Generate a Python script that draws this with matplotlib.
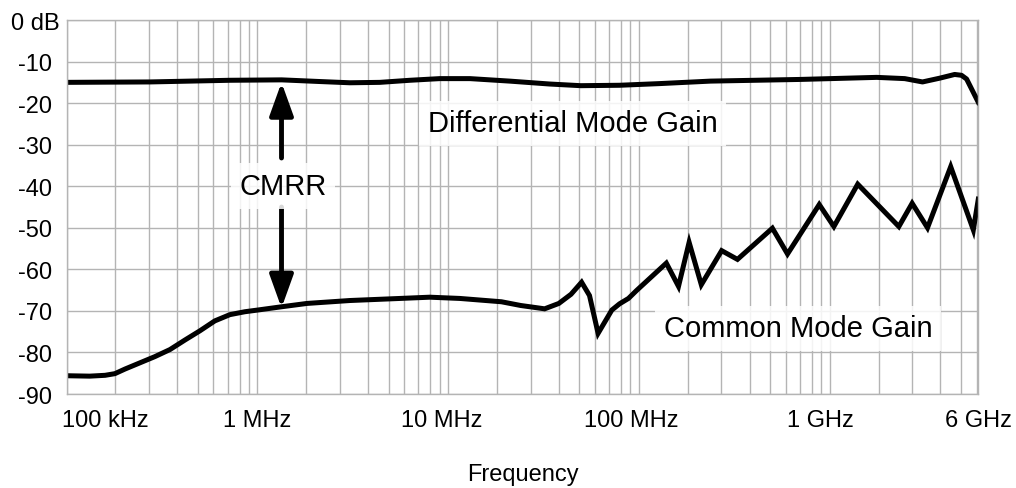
import numpy as np
import matplotlib.pyplot as plt
from matplotlib.ticker import LogLocator, NullFormatter

plt.rcParams['font.family'] = ['Liberation Sans', 'DejaVu Sans']

# Differential mode gain (Hz, dB)
dm_freq = [1.0e5, 2.73e5, 7.17e5, 1.34e6, 2.12e6, 3.05e6, 4.38e6, 6.29e6, 9.02e6, 1.30e7,
           2.10e7, 3.40e7, 4.95e7, 7.91e7, 1.28e8, 2.37e8, 6.94e8, 1.76e9, 2.47e9, 3.06e9,
           3.76e9, 4.51e9, 4.90e9, 5.21e9, 6.0e9]
dm_gain = [-15.0, -14.9, -14.5, -14.4, -14.8, -15.1, -15.0, -14.5, -14.1, -14.1,
           -14.7, -15.4, -15.8, -15.7, -15.3, -14.7, -14.3, -13.8, -14.1, -14.9,
           -14.0, -13.1, -13.3, -14.2, -19.8]

# Common mode gain (Hz, dB)
cm_freq = [1.0e5, 1.32e5, 1.59e5, 1.79e5, 2.02e5, 2.42e5, 2.90e5, 3.48e5, 4.17e5, 4.99e5,
           5.98e5, 7.17e5, 8.59e5, 1.0e6, 1.34e6, 1.82e6, 3.05e6, 5.6e6, 8.0e6, 1.15e7,
           1.9e7, 2.4e7, 3.2e7, 3.8e7, 4.4e7, 5.0e7, 5.5e7, 6.1e7, 7.2e7, 7.9e7,
           8.8e7, 9.7e7, 1.39e8, 1.61e8, 1.83e8, 2.12e8, 2.71e8, 3.28e8, 5.0e8, 6.0e8,
           8.8e8, 1.05e9, 1.4e9, 2.3e9, 2.7e9, 3.25e9, 4.3e9, 5.65e9, 6.0e9]
cm_gain = [-85.6, -85.7, -85.5, -85.1, -84.0, -82.5, -81.0, -79.3, -77.0, -74.8,
           -72.4, -70.9, -70.2, -69.8, -69.0, -68.2, -67.5, -67.0, -66.7, -67.0,
           -67.8, -68.7, -69.5, -68.2, -66.0, -63.1, -66.3, -75.4, -69.8, -68.3,
           -67.0, -65.1, -58.5, -64.1, -53.5, -63.7, -55.5, -57.6, -50.1, -56.3,
           -44.4, -49.7, -39.5, -49.7, -44.1, -50.0, -35.3, -50.5, -43.1]

y_ticks = [0, -10, -20, -30, -40, -50, -60, -70, -80, -90]
y_labels = ['0 dB', '-10', '-20', '-30', '-40', '-50', '-60', '-70', '-80', '-90']
x_label_pos = [1.6e5, 1.0e6, 9.2e6, 9.1e7, 8.9e8, 6.0e9]
x_labels = ['100 kHz', '1 MHz', '10 MHz', '100 MHz', '1 GHz', '6 GHz']
# where the drawn grid puts its lines inside each decade
grid_subs = [1.0, 1.8, 2.7, 3.8, 4.87, 5.88, 6.97, 8.07, 9.0]

# CMRR arrow: frequency, tip/tail levels (dB)
arrow_freq = 1.337e6
arrow_top = (-15.0, -33.2)
arrow_bottom = (-69.3, -45.0)

grid_color = '#b4b4b4'

fig = plt.figure(figsize=(10.16, 4.89), dpi=100)
ax = fig.add_axes([0.0656, 0.1922, 0.8973, 0.7648])
ax.set_xscale('log')
ax.set_xlim(1e5, 6e9)
ax.set_ylim(-90, 0)

ax.xaxis.remove_overlapping_locs = False
ax.xaxis.set_minor_locator(LogLocator(base=10, subs=grid_subs, numticks=60))
ax.xaxis.set_minor_formatter(NullFormatter())
ax.set_xticks(x_label_pos, x_labels)
ax.grid(True, axis='x', which='minor', color=grid_color, lw=1.0)
ax.set_yticks(y_ticks, y_labels)
ax.grid(True, axis='y', which='major', color=grid_color, lw=1.0)
ax.set_axisbelow(True)

ax.tick_params(which='both', length=0)
ax.tick_params(axis='x', pad=10.5, labelsize=17)
ax.tick_params(axis='y', pad=22.8, labelsize=17)
for lab in ax.get_yticklabels():
    lab.set_ha('center')
for s in ax.spines.values():
    s.set_color(grid_color)
    s.set_linewidth(1.0)

ax.plot(dm_freq, dm_gain, color='black', lw=3.6, solid_joinstyle='round')
ax.plot(cm_freq, cm_gain, color='black', lw=3.6, solid_joinstyle='miter')

box = dict(boxstyle='square,pad=0.3', facecolor='white', edgecolor='none', alpha=0.85)
ax.text(4.5e7, -26.8, 'Differential Mode Gain', ha='center', va='baseline',
        fontsize=21, bbox=box, zorder=5)
ax.text(1.36e6, -41.9, 'CMRR', ha='center', va='baseline', fontsize=21, bbox=box, zorder=5)
ax.text(6.8e8, -76.1, 'Common Mode Gain', ha='center', va='baseline',
        fontsize=21, bbox=box, zorder=5)

arrow_style = dict(arrowstyle='-|>,head_length=1.0,head_width=0.36', color='black',
                   lw=3.5, shrinkA=0, shrinkB=0, mutation_scale=20)
ax.annotate('', xy=(arrow_freq, arrow_top[0]), xytext=(arrow_freq, arrow_top[1]),
            arrowprops=arrow_style)
ax.annotate('', xy=(arrow_freq, arrow_bottom[0]), xytext=(arrow_freq, arrow_bottom[1]),
            arrowprops=arrow_style)

ax.set_xlabel('Frequency', fontsize=17)
ax.xaxis.set_label_coords(0.5, -0.23)
ax.xaxis.label.set_va('baseline')

fig.savefig('out.png', dpi=100)
